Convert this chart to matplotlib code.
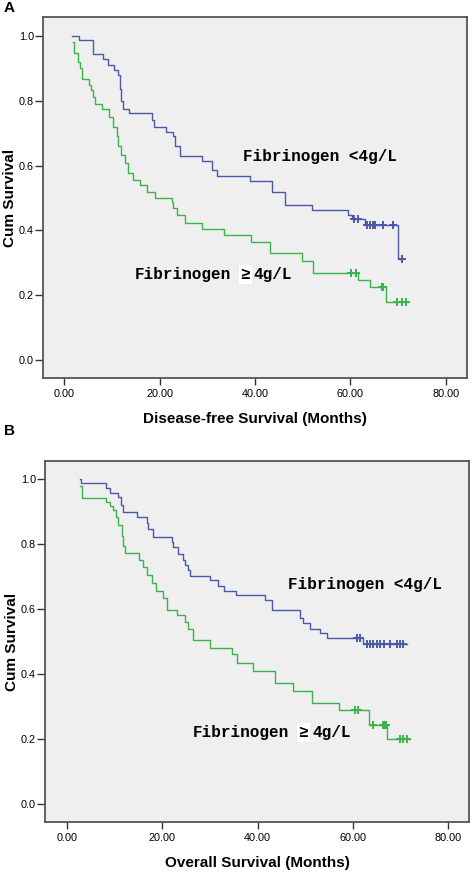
import numpy as np
import matplotlib.pyplot as plt

# Panel A: disease-free survival, step points (time in months, cumulative survival)
dfs_low_t = [1.7, 3.1, 6.0, 8.2, 9.3, 10.5, 11.3, 11.7, 12.0, 12.3, 13.6, 18.4, 18.8, 21.3,
             22.9, 23.3, 24.3, 28.9, 31.0, 32.1, 39.0, 43.6, 46.3, 51.9, 59.5, 60.3, 63.0, 70.0]
dfs_low_s = [1.0, 0.988, 0.943, 0.929, 0.91, 0.895, 0.88, 0.836, 0.80, 0.776, 0.762, 0.741, 0.72, 0.704,
             0.69, 0.66, 0.63, 0.614, 0.586, 0.568, 0.553, 0.52, 0.478, 0.463, 0.448, 0.435, 0.417, 0.312]
dfs_low_cens = [60.8, 61.5, 63.4, 64.1, 64.8, 65.1, 66.8, 68.9, 70.7]
dfs_low_end = 70.7

dfs_high_t = [1.8, 2.0, 3.0, 3.35, 3.7, 5.3, 5.65, 6.0, 6.5, 7.9, 9.4, 10.3, 11.1, 11.3, 11.9, 12.8, 13.4,
              14.4, 15.9, 17.3, 19.0, 22.6, 22.9, 23.6, 25.3, 28.9, 33.5, 39.2, 43.1, 49.8, 52.1,
              61.6, 64.1, 67.4]
dfs_high_s = [0.982, 0.946, 0.921, 0.90, 0.867, 0.849, 0.833, 0.813, 0.789, 0.775, 0.75, 0.72, 0.69, 0.66,
              0.633, 0.607, 0.576, 0.556, 0.54, 0.52, 0.50, 0.488, 0.47, 0.448, 0.423, 0.404, 0.386,
              0.364, 0.33, 0.306, 0.27, 0.247, 0.225, 0.18]
dfs_high_cens = [60.2, 61.1, 66.5, 66.7, 66.9, 69.7, 70.7, 71.6]
dfs_high_end = 72.0

# Panel B: overall survival
os_low_t = [2.7, 2.9, 8.2, 9.0, 10.8, 11.3, 11.7, 14.6, 16.7, 17.1, 18.1, 22.0, 22.3, 23.4, 24.3, 24.8,
            25.5, 25.8, 30.0, 31.8, 33.0, 35.5, 41.6, 43.0, 48.9, 49.6, 51.0, 53.1, 54.5, 62.2]
os_low_s = [1.0, 0.987, 0.971, 0.958, 0.946, 0.92, 0.90, 0.882, 0.866, 0.846, 0.823, 0.807, 0.792, 0.769,
            0.751, 0.735, 0.72, 0.703, 0.688, 0.671, 0.657, 0.643, 0.628, 0.597, 0.571, 0.556, 0.54,
            0.527, 0.51, 0.492]
os_low_cens = [60.8, 61.5, 62.9, 63.6, 64.3, 65.0, 65.7, 66.6, 67.8, 69.2, 69.9, 70.6]
os_low_end = 71.3

os_high_t = [2.7, 3.1, 8.2, 9.0, 9.7, 10.3, 10.8, 11.5, 11.8, 12.2, 15.2, 15.9, 16.7, 17.8, 18.7, 20.2,
             20.9, 23.0, 24.8, 25.5, 26.4, 30.0, 34.6, 35.8, 39.1, 43.7, 47.5, 51.4, 57.1, 63.5, 67.1]
os_high_s = [0.98, 0.943, 0.928, 0.917, 0.905, 0.882, 0.858, 0.825, 0.794, 0.771, 0.751, 0.73, 0.705,
             0.681, 0.657, 0.634, 0.597, 0.582, 0.561, 0.54, 0.505, 0.48, 0.463, 0.435, 0.408, 0.372,
             0.349, 0.31, 0.289, 0.243, 0.2]
os_high_cens = [60.5, 61.2, 64.3, 66.4, 66.6, 66.8, 67.0, 69.9, 70.6, 71.3]
os_high_end = 72.0

x_ticks = [0, 20, 40, 60, 80]
y_ticks = [0.0, 0.2, 0.4, 0.6, 0.8, 1.0]

BLUE = "#4a5aa8"
GREEN = "#3cb44b"
SANS = ["Liberation Sans", "DejaVu Sans"]
MONO = ["Liberation Mono", "DejaVu Sans Mono"]
LABEL_SIZE = 11.5


def km_curve(ax, t, s, cens, end, color):
    t = list(t) + [end]
    s = list(s) + [s[-1]]
    ax.step(t, s, where="post", color=color, lw=1.0)
    idx = np.searchsorted(t, cens, side="right") - 1
    cy = np.array(s)[idx]
    ax.plot(cens, cy, ls="none", marker="+", ms=6, mew=1.4, color=color)


def group_label(ax, x, y, text):
    kw = dict(family=MONO, fontsize=LABEL_SIZE, fontweight="bold", ha="left", va="center",
              textcoords="offset points", zorder=5)
    cw = 0.6 * LABEL_SIZE  # monospace advance, points
    if "\u2265" not in text:
        ax.annotate(text, (x, y), xytext=(0, 0), **kw)
        return
    # the original has a white patch behind the wide "≥" sign
    head, tail = text.split("\u2265")
    ax.annotate(head.rstrip(), (x, y), xytext=(0, 0), **kw)
    ax.annotate("\u2265", (x, y), xytext=(len(head) * cw, 0),
                bbox=dict(boxstyle="square,pad=0.12", fc="white", ec="none"), **kw)
    ax.annotate(tail, (x, y), xytext=((len(head) + 1.4) * cw, 0), **kw)


def style_axes(ax, xlabel, xlim, ylim):
    ax.set_facecolor("#efefef")
    ax.set_xlim(*xlim)
    ax.set_ylim(*ylim)
    ax.set_xticks(x_ticks)
    ax.set_xticklabels([f"{v:.2f}" for v in x_ticks], family=SANS, fontsize=7.8)
    ax.set_yticks(y_ticks)
    ax.set_yticklabels([f"{v:.1f}" for v in y_ticks], family=SANS, fontsize=7.8)
    ax.tick_params(axis="x", length=5, width=1, pad=3, color="#333333")
    ax.tick_params(axis="y", length=5.5, width=1, pad=1, color="#333333")
    for sp in ax.spines.values():
        sp.set_color("#555555")
        sp.set_linewidth(1.3)
    ax.set_xlabel(xlabel, family=SANS, fontsize=11, fontweight="bold", labelpad=9)
    ax.set_ylabel("Cum Survival", family=SANS, fontsize=11, fontweight="bold", labelpad=1)


fig = plt.figure(figsize=(4.72, 8.72), dpi=100)
ax_a = fig.add_axes([0.0911, 0.5665, 0.8983, 0.414])
ax_b = fig.add_axes([0.0953, 0.0573, 0.8983, 0.414])

km_curve(ax_a, dfs_low_t, dfs_low_s, dfs_low_cens, dfs_low_end, BLUE)
km_curve(ax_a, dfs_high_t, dfs_high_s, dfs_high_cens, dfs_high_end, GREEN)
style_axes(ax_a, "Disease-free Survival (Months)", (-4.4, 84.4), (-0.0556, 1.0586))
group_label(ax_a, 37.5, 0.627, "Fibrinogen <4g/L")
group_label(ax_a, 14.9, 0.265, "Fibrinogen \u22654g/L")

km_curve(ax_b, os_low_t, os_low_s, os_low_cens, os_low_end, BLUE)
km_curve(ax_b, os_high_t, os_high_s, os_high_cens, os_high_end, GREEN)
style_axes(ax_b, "Overall Survival (Months)", (-4.62, 84.4), (-0.0554, 1.0554))
group_label(ax_b, 46.4, 0.674, "Fibrinogen <4g/L")
group_label(ax_b, 26.5, 0.22, "Fibrinogen \u22654g/L")

fig.text(4 / 472, 1 - 8 / 872, "A", family=SANS, fontsize=11, fontweight="bold", ha="left", va="center")
fig.text(4 / 472, 1 - 431 / 872, "B", family=SANS, fontsize=11, fontweight="bold", ha="left", va="center")

fig.savefig("out.png", dpi=100)
